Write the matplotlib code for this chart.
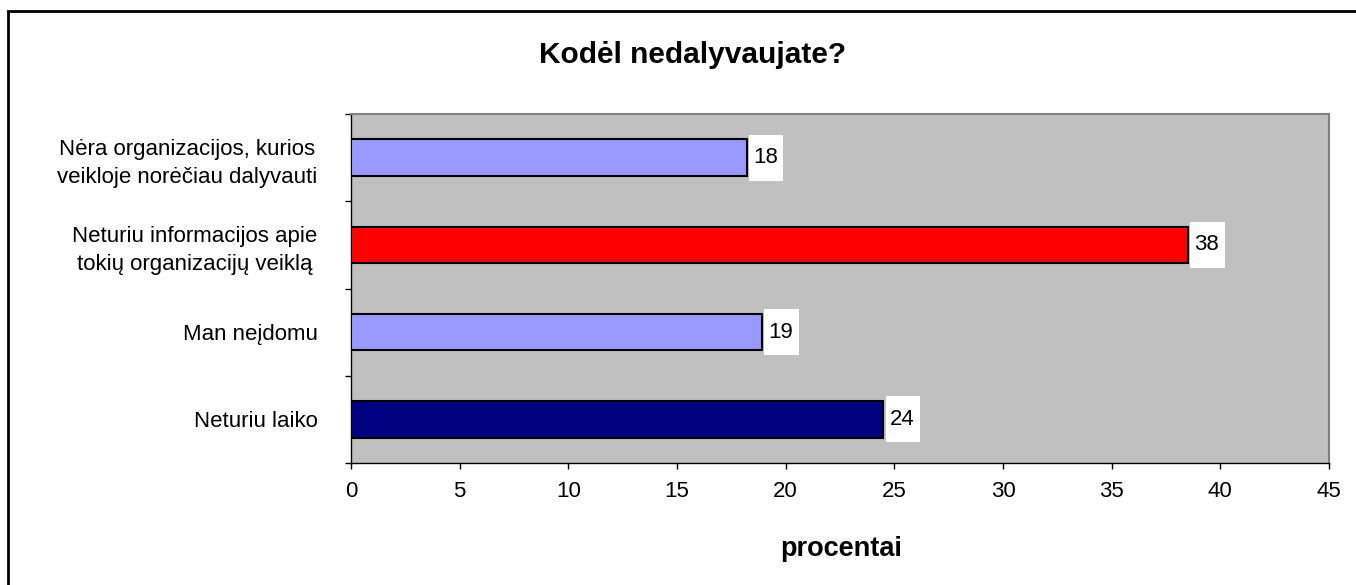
import matplotlib.pyplot as plt
from matplotlib.patches import Rectangle

# data, bottom to top like the reference
categories = ["Neturiu laiko",
              "Man neįdomu",
              "Neturiu informacijos apie\ntokių organizacijų veiklą",
              "Nėra organizacijos, kurios\nveikloje norėčiau dalyvauti"]
values = [24.5, 18.9, 38.5, 18.2]
value_labels = ["24", "19", "38", "18"]
bar_colors = ["#000080", "#9999FF", "#FF0000", "#9999FF"]
xticks = [0, 5, 10, 15, 20, 25, 30, 35, 40, 45]

plt.rcParams['font.family'] = ['Liberation Sans', 'DejaVu Sans']

fig = plt.figure(figsize=(13.56, 5.85), dpi=100)
ax = fig.add_axes([351/1356, 122/585, 978/1356, 349/585])

# outer frame of the chart (runs off right and bottom edge)
fig.patches.append(Rectangle((8/1356, -0.05), 1.2, (585-11)/585 + 0.05,
                             transform=fig.transFigure, fill=False,
                             edgecolor="black", linewidth=2))

ypos = list(range(len(categories)))
ax.barh(ypos, values, height=0.42, color=bar_colors, edgecolor="black", linewidth=1.5, zorder=3)

# value labels in white boxes
for y, v, lab in zip(ypos, values, value_labels):
    ax.add_patch(Rectangle((v + 0.1, y - 0.265), 1.6, 0.53, facecolor="white",
                           edgecolor="none", zorder=4))
    ax.text(v + 0.3, y, lab, va="center", ha="left", fontsize=16, zorder=5)

ax.set_facecolor("#C0C0C0")
ax.set_xlim(0, 45)
ax.set_ylim(-0.5, len(categories) - 0.5)
ax.set_xticks(xticks)
ax.set_xticklabels([str(t) for t in xticks], fontsize=16)

# category labels between the ticks
ax.set_yticks([y - 0.5 for y in range(len(categories) + 1)])
ax.set_yticklabels([])
ax.set_yticks(ypos, minor=True)
ax.set_yticklabels(categories, minor=True, fontsize=16, multialignment="center",
                   linespacing=1.4)
ax.tick_params(axis="y", which="minor", length=0, pad=24)
ax.tick_params(axis="y", which="major", length=4.5, width=1)
ax.tick_params(axis="x", length=4.5, width=1, pad=8.5)

for s in ["top", "right"]:
    ax.spines[s].set_color("#808080")
    ax.spines[s].set_linewidth(1.5)
for s in ["left", "bottom"]:
    ax.spines[s].set_color("black")
    ax.spines[s].set_linewidth(1)

fig.text(693/1356, 1 - 55/585, "Kodėl nedalyvaujate?", ha="center", va="center",
         fontsize=21.5, fontweight="bold")
fig.text(841/1356, 1 - 549/585, "procentai", ha="center", va="center",
         fontsize=19.5, fontweight="bold")

fig.savefig("out.png", dpi=100)
